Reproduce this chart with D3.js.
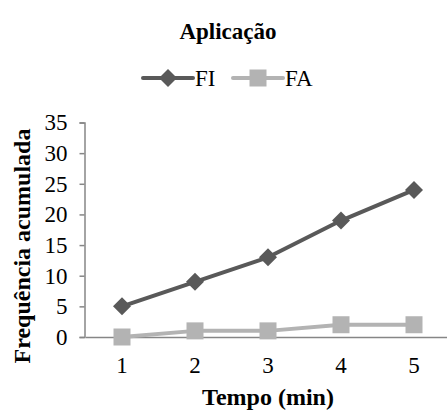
<!DOCTYPE html>
<html>
<head>
<meta charset="utf-8">
<script src="https://cdn.jsdelivr.net/npm/d3@7"></script>
<style>
  html, body { margin: 0; padding: 0; background: #fff; }
  svg text { font-family: "Liberation Serif", "Times New Roman", Times, serif !important; }
</style>
</head>
<body>
<svg id="chart" width="447" height="410"></svg>
<script>
// Cumulative frequency over time
const times = ["1", "2", "3", "4", "5"];
const fiValues = [5, 9, 13, 19, 24];
const faValues = [0, 1, 1, 2, 2];
const yTicks = [0, 5, 10, 15, 20, 25, 30, 35];

const series = [
  { name: "FI", values: fiValues, color: "#595959", marker: "diamond" },
  { name: "FA", values: faValues, color: "#b3b3b3", marker: "square" }
];

const svg = d3.select("#chart");
const axisColor = "#868686";

const x = d3.scaleBand().domain(times).range([85.5, 450.5]);
const y = d3.scaleLinear().domain([0, 35]).range([337, 122.5]);

// Title
svg.append("text")
  .attr("x", 228).attr("y", 39)
  .attr("text-anchor", "middle")
  .attr("font-weight", "bold")
  .attr("font-size", 23)
  .text("Aplicação");

// Y axis
const yAxis = svg.append("g")
  .attr("transform", "translate(84.5,0)")
  .call(d3.axisLeft(y).tickValues(yTicks).tickSize(5).tickPadding(12));
yAxis.select(".domain").attr("stroke", axisColor).attr("stroke-width", 1.5);
yAxis.selectAll(".tick line").attr("stroke", axisColor).attr("stroke-width", 1.5);
yAxis.selectAll(".tick text")
  .attr("font-size", 23).attr("fill", "#000");

// X axis
const xAxis = svg.append("g")
  .attr("transform", "translate(0,337)")
  .call(d3.axisBottom(x).tickSize(0).tickPadding(20));
xAxis.select(".domain").attr("stroke", axisColor).attr("stroke-width", 1.5);
xAxis.selectAll(".tick text")
  .attr("font-size", 23).attr("fill", "#000");

// Axis titles
svg.append("text")
  .attr("x", 268).attr("y", 405)
  .attr("text-anchor", "middle")
  .attr("font-weight", "bold")
  .attr("font-size", 24)
  .text("Tempo (min)");

svg.append("text")
  .attr("transform", "translate(30,246) rotate(-90)")
  .attr("text-anchor", "middle")
  .attr("font-weight", "bold")
  .attr("font-size", 24)
  .text("Frequência acumulada");

// Marker shapes
function drawMarker(g, type, cx, cy, color) {
  if (type === "diamond") {
    const r = 9;
    g.append("path")
      .attr("d", `M${cx},${cy - r}L${cx + r},${cy}L${cx},${cy + r}L${cx - r},${cy}Z`)
      .attr("fill", color);
  } else {
    const s = 17;
    g.append("rect")
      .attr("x", cx - s / 2).attr("y", cy - s / 2)
      .attr("width", s).attr("height", s)
      .attr("fill", color);
  }
}

const cx = d => x(d) + x.bandwidth() / 2;

// Series lines and markers (FA drawn first so FI sits on top)
[...series].reverse().forEach(s => {
  const g = svg.append("g");
  const line = d3.line()
    .x((v, i) => cx(times[i]))
    .y(v => y(v));
  g.append("path")
    .datum(s.values)
    .attr("d", line)
    .attr("fill", "none")
    .attr("stroke", s.color)
    .attr("stroke-width", 4)
    .attr("stroke-linejoin", "round");
  s.values.forEach((v, i) => drawMarker(g, s.marker, cx(times[i]), y(v), s.color));
});

// Legend
const legendItems = [
  { x: 143, textX: 195 },
  { x: 233, textX: 285 }
];
series.forEach((s, i) => {
  const lx = legendItems[i].x;
  const g = svg.append("g");
  g.append("line")
    .attr("x1", lx).attr("x2", lx + 50)
    .attr("y1", 78).attr("y2", 78)
    .attr("stroke", s.color).attr("stroke-width", 4)
    .attr("stroke-linecap", "round");
  drawMarker(g, s.marker, lx + 25, 78, s.color);
  g.append("text")
    .attr("x", legendItems[i].textX).attr("y", 86)
    .attr("font-size", 23)
    .text(s.name);
});
</script>
</body>
</html>
